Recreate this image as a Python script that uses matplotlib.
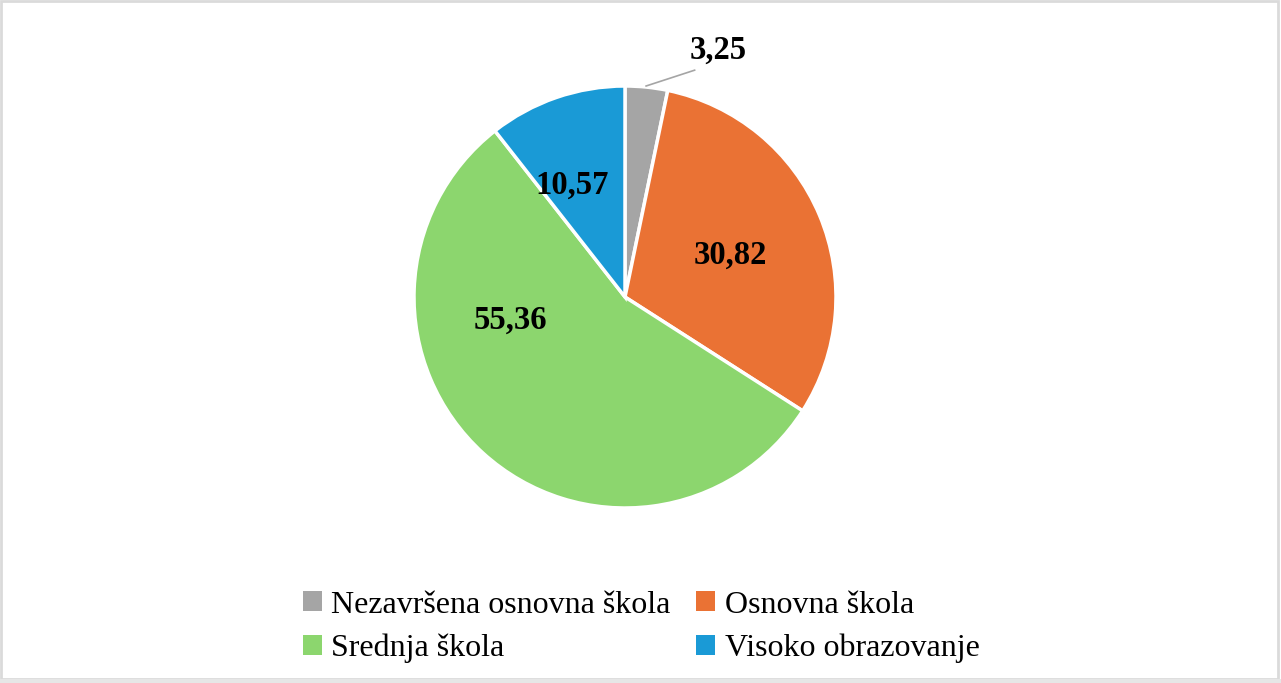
import matplotlib
matplotlib.use("Agg")
import matplotlib.pyplot as plt
from matplotlib.patches import Rectangle, Patch

categories = ["Nezavršena osnovna škola", "Osnovna škola", "Srednja škola", "Visoko obrazovanje"]
values = [3.25, 30.82, 55.36, 10.57]
value_labels = ["3,25", "30,82", "55,36", "10,57"]
colors = ["#A5A5A5", "#EA7234", "#8CD66E", "#1A9AD6"]

# label positions in pie units (text annotations)
label_pos = [(0.44, 1.17), (0.50, 0.20), (-0.545, -0.11), (-0.25, 0.53)]

fig = plt.figure(figsize=(12.81, 6.83), dpi=100)
fig.patch.set_facecolor("white")

W, H = 1281, 683
cx, cy, r = 625, 297, 211
ax = fig.add_axes([(cx - r) / W, (H - cy - r) / H, 2 * r / W, 2 * r / H])
wedges, _ = ax.pie(values, colors=colors, startangle=90, counterclock=False,
                   radius=1.0, wedgeprops=dict(edgecolor="white", linewidth=2.5))
ax.set_xlim(-1, 1)
ax.set_ylim(-1, 1)
ax.set_aspect("equal")
ax.axis("off")

for (x, y), t in zip(label_pos, value_labels):
    ax.text(x, y, t, ha="center", va="center", fontsize=23.5, fontweight="bold",
            family="Liberation Serif", color="black", clip_on=False)

# leader line for smallest slice
ax.plot([0.10, 0.33], [1.0, 1.075], color="#A5A5A5", lw=1.2, clip_on=False)

# legend filled row by row
order = [0, 2, 1, 3]
handles = [Patch(facecolor=colors[i], edgecolor="none") for i in order]
labels = [categories[i] for i in order]
leg = fig.legend(handles, labels, ncol=2, loc="center",
                 bbox_to_anchor=(0.5006, 0.082), frameon=False,
                 prop={"family": "Liberation Serif", "size": 23},
                 handlelength=0.6, handleheight=0.6, handletextpad=0.3,
                 columnspacing=0.8, labelspacing=0.45)

# border
fig.add_artist(Rectangle((0.001, 0.006), 0.997, 0.992, transform=fig.transFigure,
                         fill=False, edgecolor="#DADADA", lw=2))
fig.add_artist(Rectangle((0, 0), 1, 0.006, transform=fig.transFigure,
                         facecolor="#E6E6E6", edgecolor="none"))

fig.savefig("out.png", dpi=100)
